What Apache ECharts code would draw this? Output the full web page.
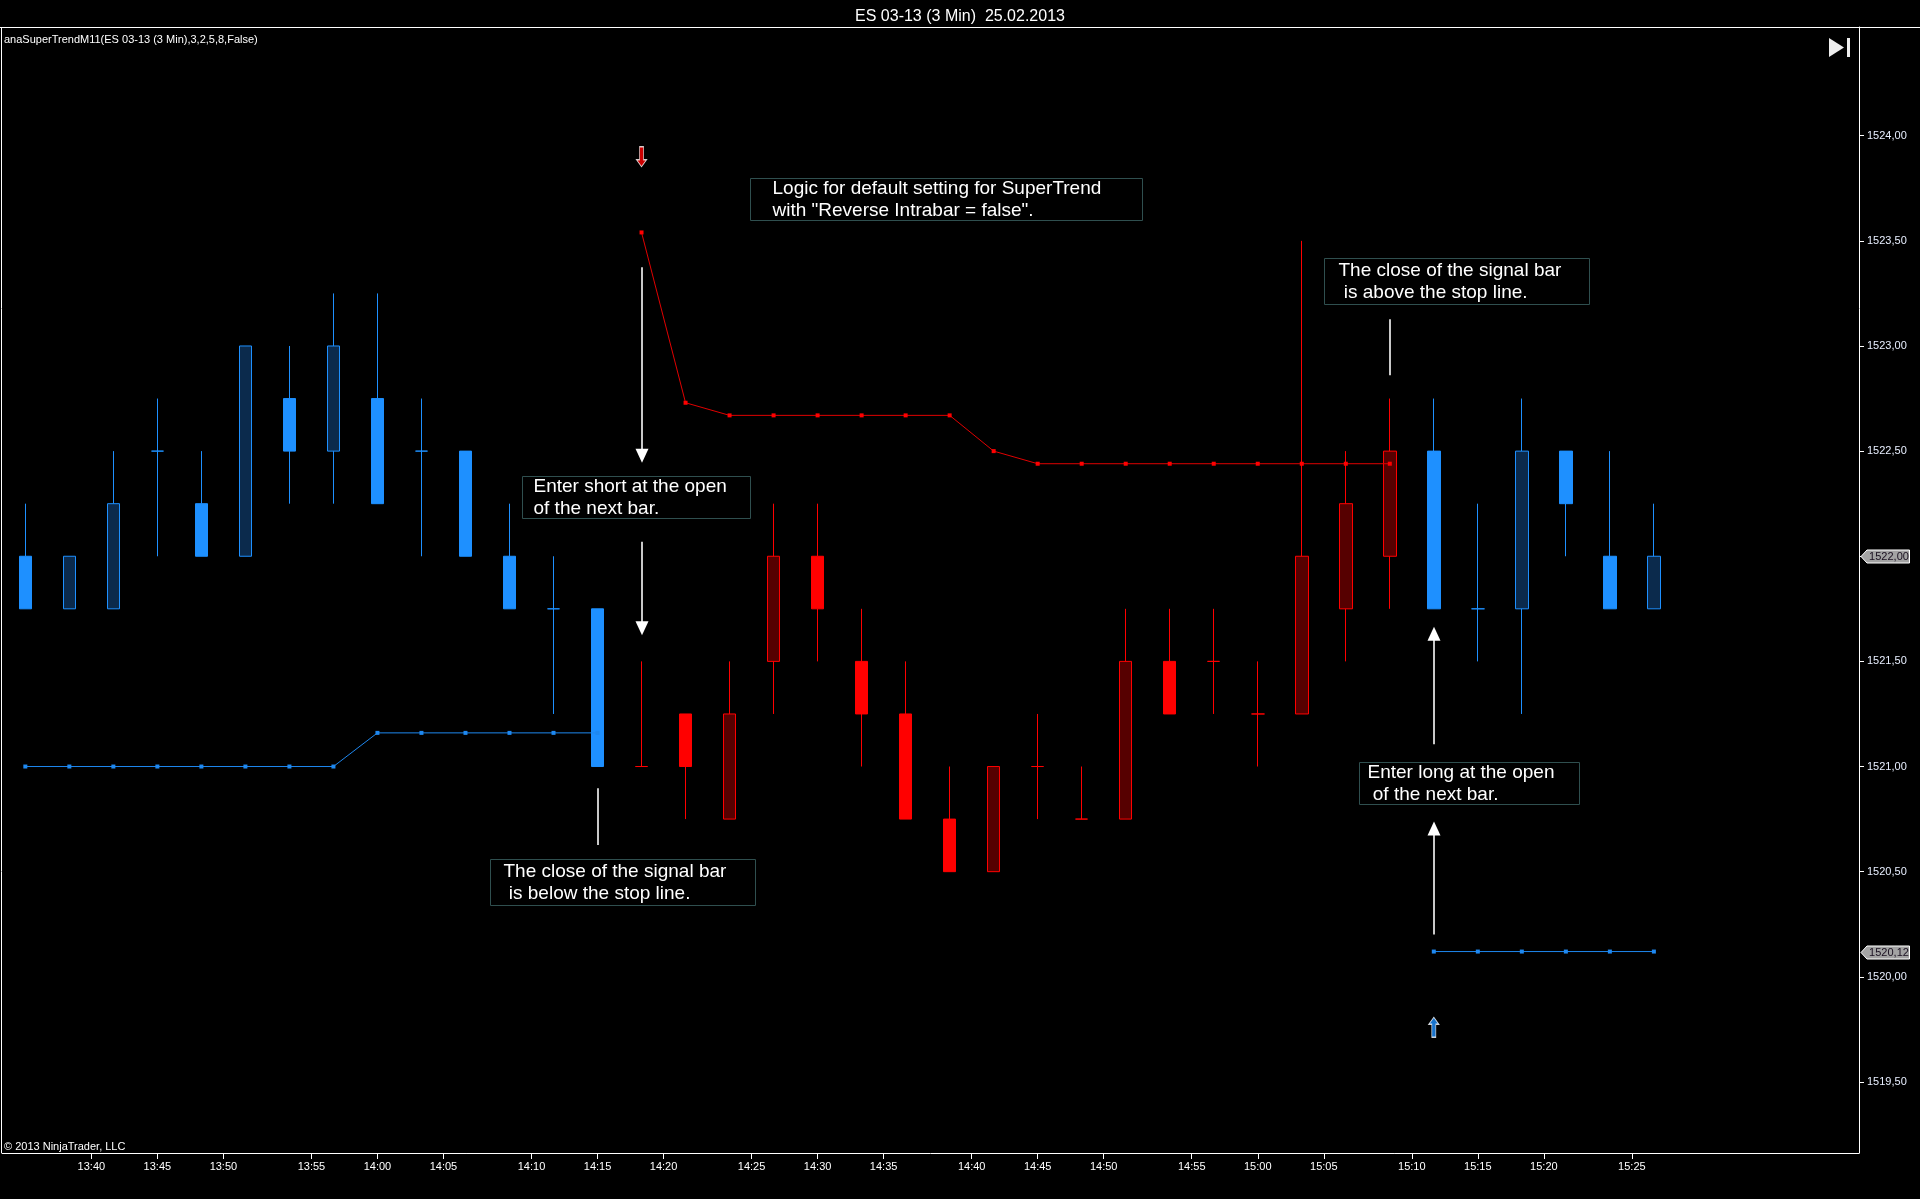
<!DOCTYPE html>
<html>
<head>
<meta charset="utf-8">
<title>ES 03-13 (3 Min)  25.02.2013</title>
<script src="https://cdn.jsdelivr.net/npm/echarts@6/dist/echarts.min.js"></script>
<style>
    html, body { margin: 0; padding: 0; background: #000; }
    #chart { width: 1920px; height: 1199px; }
</style>
</head>
<body>
<div id="chart"></div>
<script type="text/javascript">
    var FONT = '"Liberation Sans", Arial, sans-serif';

    // 3 minute bars, the first one is stamped 13:36
    var firstBar = '13:36';
    var barMinutes = 3;

    var opens  = [1522.00, 1521.75, 1521.75, 1522.50, 1522.25, 1522.00, 1522.75, 1522.50, 1522.75, 1522.50,
                  1522.50, 1522.00, 1521.75, 1521.75, 1521.00, 1521.25, 1520.75, 1521.50, 1522.00, 1521.50,
                  1521.25, 1520.75, 1520.50, 1521.00, 1520.75, 1520.75, 1521.50, 1521.50, 1521.25, 1521.25,
                  1521.75, 1522.00, 1522.50, 1521.75, 1521.75, 1522.50, 1522.00, 1521.75];
    var highs  = [1522.25, 1522.00, 1522.50, 1522.75, 1522.50, 1523.00, 1523.00, 1523.25, 1523.25, 1522.75,
                  1522.50, 1522.25, 1522.00, 1521.75, 1521.50, 1521.25, 1521.50, 1522.25, 1522.25, 1521.75,
                  1521.50, 1521.00, 1521.00, 1521.25, 1521.00, 1521.75, 1521.75, 1521.75, 1521.50, 1523.50,
                  1522.50, 1522.75, 1522.75, 1522.25, 1522.75, 1522.50, 1522.50, 1522.25];
    var lows   = [1521.75, 1521.75, 1521.75, 1522.00, 1522.00, 1522.00, 1522.25, 1522.25, 1522.25, 1522.00,
                  1522.00, 1521.75, 1521.25, 1521.00, 1521.00, 1520.75, 1520.75, 1521.25, 1521.50, 1521.00,
                  1520.75, 1520.50, 1520.50, 1520.75, 1520.75, 1520.75, 1521.25, 1521.25, 1521.00, 1521.25,
                  1521.50, 1521.75, 1521.75, 1521.50, 1521.25, 1522.00, 1521.75, 1521.75];
    var closes = [1521.75, 1522.00, 1522.25, 1522.50, 1522.00, 1523.00, 1522.50, 1523.00, 1522.25, 1522.50,
                  1522.00, 1521.75, 1521.75, 1521.00, 1521.00, 1521.00, 1521.25, 1522.00, 1521.75, 1521.25,
                  1520.75, 1520.50, 1521.00, 1521.00, 1520.75, 1521.50, 1521.25, 1521.50, 1521.25, 1522.00,
                  1522.25, 1522.50, 1521.75, 1521.75, 1522.50, 1522.25, 1521.75, 1522.00];

    // SuperTrend stop lines (null where the other side is active)
    var upStop   = [1521.00, 1521.00, 1521.00, 1521.00, 1521.00, 1521.00, 1521.00, 1521.00, 1521.16, 1521.16,
                    1521.16, 1521.16, 1521.16, 1521.16, null, null, null, null, null, null,
                    null, null, null, null, null, null, null, null, null, null,
                    null, null, 1520.12, 1520.12, 1520.12, 1520.12, 1520.12, 1520.12];
    var downStop = [null, null, null, null, null, null, null, null, null, null,
                    null, null, null, null, 1523.54, 1522.73, 1522.67, 1522.67, 1522.67, 1522.67,
                    1522.67, 1522.67, 1522.50, 1522.44, 1522.44, 1522.44, 1522.44, 1522.44, 1522.44, 1522.44,
                    1522.44, 1522.44, null, null, null, null, null, null];

    var sellSignals = [[14, 1523.90]];
    var buySignals  = [[32, 1519.76]];

    var priceTicks = [1519.5, 1520.0, 1520.5, 1521.0, 1521.5, 1522.0, 1522.5, 1523.0, 1523.5, 1524.0];
    var timeLabels = ['13:40', '13:45', '13:50', '13:55', '14:00', '14:05', '14:10', '14:15', '14:20', '14:25', '14:30',
                      '14:35', '14:40', '14:45', '14:50', '14:55', '15:00', '15:05', '15:10', '15:15', '15:20', '15:25'];

    function $each(arr, fn) {
        for (var i = 0; i < arr.length; i++) fn(arr[i], i);
    }

    function toMin(t) {
        var p = t.split(':');
        return (+p[0]) * 60 + (+p[1]);
    }

    // time labels sit on the nearest half bar
    var timePos = [];
    var timeByPos = {};
    $each(timeLabels, function (t) {
        var pos = Math.round((toMin(t) - toMin(firstBar)) / barMinutes * 2) / 2;
        timePos.push(pos);
        timeByPos[pos.toFixed(1)] = t;
    });

    function candles(longSide) {
        var out = [];
        for (var i = 0; i < opens.length; i++) {
            if ((upStop[i] != null) === longSide) {
                out.push([i, opens[i], closes[i], lows[i], highs[i]]);
            }
        }
        return out;
    }

    function stopLine(arr) {
        return arr.map(function (v, i) { return [i, v == null ? '-' : v]; });
    }

    var chart = echarts.init(document.getElementById('chart'));

    var option = {
        backgroundColor: '#000',
        animation: false,
        title: {
            text: 'ES 03-13 (3 Min)  25.02.2013',
            left: 'center',
            top: 4,
            textStyle: { color: '#fff', fontSize: 16, fontWeight: 'normal', fontFamily: FONT }
        },
        grid: { left: 2, right: 61, top: 27, bottom: 46 },
        xAxis: {
            type: 'value',
            min: -0.53,
            max: 41.66,
            axisLine: { show: true, onZero: false, lineStyle: { color: '#fff', width: 1 } },
            axisTick: { show: true, customValues: timePos, length: 6, lineStyle: { color: '#fff' } },
            axisLabel: {
                customValues: timePos,
                formatter: function (v) { return timeByPos[v.toFixed(1)] || ''; },
                color: '#fff', fontSize: 11, fontFamily: FONT, margin: 8
            },
            splitLine: { show: false }
        },
        yAxis: {
            type: 'value',
            position: 'right',
            min: 1519.162,
            max: 1524.517,
            axisLine: { show: true, onZero: false, lineStyle: { color: '#fff', width: 1 } },
            axisTick: { show: true, customValues: priceTicks, length: 5, lineStyle: { color: '#fff' } },
            axisLabel: {
                customValues: priceTicks,
                formatter: function (v) { return v.toFixed(2).replace('.', ','); },
                color: '#e8efff', fontSize: 11, fontFamily: FONT, margin: 8
            },
            splitLine: { show: false }
        },
        series: [{
            name: 'long bars',
            type: 'candlestick',
            data: candles(true),
            encode: { x: 0, y: [1, 2, 3, 4] },
            barWidth: 13,
            itemStyle: {
                color: '#0b2a4c', color0: '#1e90ff',
                borderColor: '#1e90ff', borderColor0: '#1e90ff', borderColorDoji: '#1e90ff',
                borderWidth: 1
            },
            z: 2
        }, {
            name: 'short bars',
            type: 'candlestick',
            data: candles(false),
            encode: { x: 0, y: [1, 2, 3, 4] },
            barWidth: 13,
            itemStyle: {
                color: '#560000', color0: '#ff0000',
                borderColor: '#ff0000', borderColor0: '#ff0000', borderColorDoji: '#ff0000',
                borderWidth: 1
            },
            z: 2
        }, {
            name: 'stop long',
            type: 'line',
            data: stopLine(upStop),
            symbol: 'rect',
            symbolSize: 4,
            showAllSymbol: true,
            lineStyle: { color: '#1e88f0', width: 1 },
            itemStyle: { color: '#1e88f0' },
            z: 3
        }, {
            name: 'stop short',
            type: 'line',
            data: stopLine(downStop),
            symbol: 'rect',
            symbolSize: 4,
            showAllSymbol: true,
            lineStyle: { color: '#e00000', width: 1 },
            itemStyle: { color: '#ff0000' },
            z: 3
        }, {
            name: 'sell',
            type: 'scatter',
            data: sellSignals,
            symbol: 'path://M3,0L7,0L7,13L10,13L5,20L0,13L3,13Z',
            symbolSize: [10, 20],
            itemStyle: { color: '#ff0000', borderColor: '#fff', borderWidth: 1 },
            z: 4
        }, {
            name: 'buy',
            type: 'scatter',
            data: buySignals,
            symbol: 'path://M5,0L10,7L7,7L7,20L3,20L3,7L0,7Z',
            symbolSize: [10, 20],
            itemStyle: { color: '#1e90ff', borderColor: '#fff', borderWidth: 1 },
            z: 4
        }]
    };
    chart.setOption(option);

    // drawing objects of the chart, anchored to bar / price
    var notes = [
        { from: [16.47, 1523.80], to: [25.38, 1523.60], pad: 22, text: 'Logic for default setting for SuperTrend\nwith "Reverse Intrabar = false".' },
        { from: [11.29, 1522.38], to: [16.47, 1522.18], pad: 11, text: 'Enter short at the open\nof the next bar.' },
        { from: [10.55, 1520.56], to: [16.56, 1520.34], pad: 13, text: 'The close of the signal bar\n is below the stop line.' },
        { from: [29.50, 1523.42], to: [35.51, 1523.20], pad: 14, text: 'The close of the signal bar\n is above the stop line.' },
        { from: [30.29, 1521.02], to: [35.28, 1520.82], pad: 8,  text: 'Enter long at the open\n of the next bar.' }
    ];
    var arrows = [
        { from: [14, 1523.374], to: [14, 1522.445], head: true },
        { from: [14, 1522.069], to: [14, 1521.624], head: true },
        { from: [13, 1520.897], to: [13, 1520.627], head: false },
        { from: [31, 1523.127], to: [31, 1522.861], head: false },
        { from: [32, 1521.106], to: [32, 1521.665], head: true },
        { from: [32, 1520.201], to: [32, 1520.738], head: true }
    ];
    var tags = [closes[closes.length - 1], upStop[upStop.length - 1]];

    function px(pt) {
        return chart.convertToPixel({ gridIndex: 0 }, pt);
    }

    var g = [];
    $each(notes, function (n) {
        var a = px(n.from), b = px(n.to);
        var x = Math.round(a[0]) + 0.5, y = Math.round(a[1]) + 0.5;
        var w = Math.round(b[0] - a[0]), h = Math.round(b[1] - a[1]);
        g.push({ type: 'rect', z: 50, shape: { x: x, y: y, width: w, height: h },
                 style: { fill: '#000', stroke: '#2f4f4f', lineWidth: 1 } });
        g.push({ type: 'text', z: 51, x: x + n.pad, y: y + h / 2,
                 style: { text: n.text, fill: '#fff', font: '19px ' + FONT, lineHeight: 22,
                          align: 'left', verticalAlign: 'middle' } });
    });
    $each(arrows, function (ar) {
        var a = px(ar.from), b = px(ar.to);
        var x = Math.round(a[0]);
        var dir = b[1] > a[1] ? 1 : -1;
        var end = ar.head ? b[1] - dir * 13 : b[1];
        g.push({ type: 'line', z: 50, shape: { x1: x, y1: a[1], x2: x, y2: end },
                 style: { stroke: '#c8c8c8', lineWidth: 2 } });
        if (ar.head) {
            g.push({ type: 'polygon', z: 50,
                     shape: { points: [[x - 6.5, b[1] - dir * 14], [x + 6.5, b[1] - dir * 14], [x, b[1]]] },
                     style: { fill: '#fff' } });
        }
    });
    $each(tags, function (v) {
        var p = px([0, v]);
        var y = Math.round(p[1]) + 0.5;
        g.push({ type: 'polygon', z: 60,
                 shape: { points: [[1861, y], [1867, y - 6.5], [1909.5, y - 6.5], [1909.5, y + 6.5], [1867, y + 6.5]] },
                 style: { fill: '#a3a3a3', stroke: '#fff', lineWidth: 1 } });
        g.push({ type: 'text', z: 61, x: 1889, y: y,
                 style: { text: v.toFixed(2).replace('.', ','), fill: '#1a1020', font: '11px ' + FONT,
                          align: 'center', verticalAlign: 'middle' } });
    });

    // frame, caption texts and the scroll-to-end icon
    g.push({ type: 'line', z: 40, shape: { x1: 0, y1: 27.5, x2: 1920, y2: 27.5 }, style: { stroke: '#fff', lineWidth: 1 } });
    g.push({ type: 'line', z: 40, shape: { x1: 1.5, y1: 27, x2: 1.5, y2: 1153 }, style: { stroke: '#fff', lineWidth: 1 } });
    g.push({ type: 'text', z: 40, x: 4, y: 39.5,
             style: { text: 'anaSuperTrendM11(ES 03-13 (3 Min),3,2,5,8,False)', fill: '#fff', font: '11px ' + FONT, verticalAlign: 'middle' } });
    g.push({ type: 'text', z: 40, x: 4, y: 1147,
             style: { text: '\u00a9 2013 NinjaTrader, LLC', fill: '#fff', font: '11px ' + FONT, verticalAlign: 'middle' } });
    g.push({ type: 'polygon', z: 40, shape: { points: [[1829, 38], [1844, 47.5], [1829, 57]] }, style: { fill: '#eeeeee' } });
    g.push({ type: 'rect', z: 40, shape: { x: 1847, y: 38, width: 3, height: 19 }, style: { fill: '#eeeeee' } });

    chart.setOption({ graphic: g });
</script>
</body>
</html>
